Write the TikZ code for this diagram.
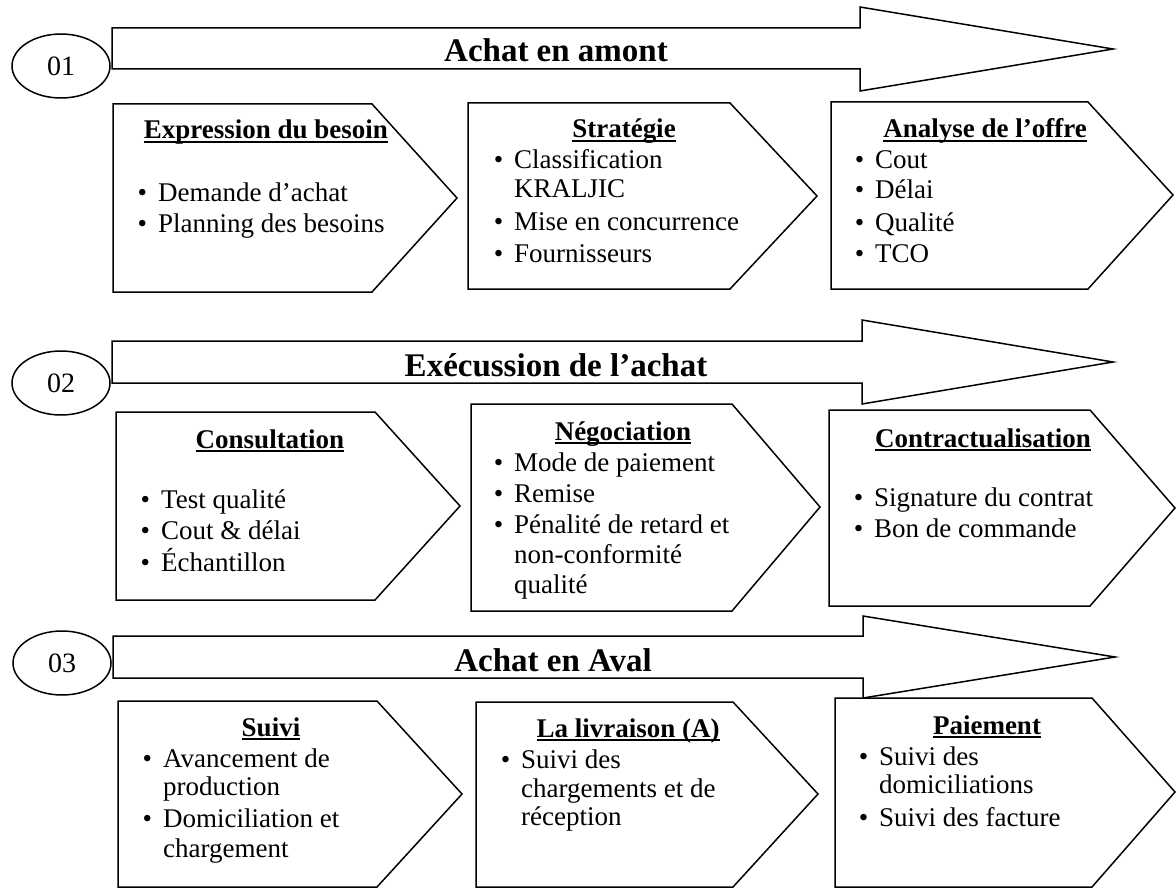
\documentclass[tikz,border=0pt]{standalone}
\usepackage{fontspec}
\setmainfont{Liberation Serif}
\usetikzlibrary{shapes.geometric}
\newcommand\hul[1]{\setbox0\hbox{#1}\rlap{\rule[-4pt]{\wd0}{1.8pt}}\box0}
\newcommand\bl{\llap{\textbullet\hspace{11pt}}}
\tikzset{
  shp/.style={draw=black, line width=1.5pt, line join=miter, fill=white},
  txt/.style={inner sep=0pt, font=\fontsize{27}{31}\selectfont, anchor=base west},
  hd/.style={inner sep=0pt, font=\fontsize{27}{31}\selectfont\bfseries, anchor=base},
  ttl/.style={inner sep=0pt, font=\fontsize{33}{38}\selectfont\bfseries, anchor=base},
  num/.style={draw=black, ellipse, line width=1.5pt, fill=white, minimum width=98pt, minimum height=64pt, inner sep=0pt, font=\fontsize{28}{32}\selectfont}
}
\begin{document}
\begin{tikzpicture}[x=1pt,y=-1pt]
\useasboundingbox (0,0) rectangle (1176,888);
% ---------- Row 1 ----------
\draw[shp] (112,28) -- (860,28) -- (860,7) -- (1113,49) -- (860,91) -- (860,69) -- (112,69) -- cycle;
\node[num] (n1) at (61,66) {01};
\node[ttl] (t1) at (556,62) {Achat en amont};
\draw[shp] (113,104) -- (372,104) -- (457,198) -- (372,292) -- (113,292) -- cycle;
\draw[shp] (468,103) -- (730,103) -- (817,196) -- (730,289) -- (468,289) -- cycle;
\draw[shp] (831,102) -- (1088,102) -- (1173,195) -- (1088,289) -- (831,289) -- cycle;
\node[hd] (h11) at (266,139) {\hul{Expression du besoin}};
\node[txt] (a111) at (158,201) {\bl Demande d’achat};
\node[txt] (a112) at (158,232) {\bl Planning des besoins};
\node[hd] (h12) at (624,138) {\hul{Stratégie}};
\node[txt] (a121) at (514,168) {\bl Classification};
\node[txt] (a122) at (514,197) {KRALJIC};
\node[txt] (a123) at (514,230) {\bl Mise en concurrence};
\node[txt] (a124) at (514,262) {\bl Fournisseurs};
\node[hd] (h13) at (985,138) {\hul{Analyse de l’offre}};
\node[txt] (a131) at (875,169) {\bl Cout};
\node[txt] (a132) at (875,199) {\bl Délai};
\node[txt] (a133) at (875,231) {\bl Qualité};
\node[txt] (a134) at (875,262) {\bl TCO};
% ---------- Row 2 ----------
\draw[shp] (112,341) -- (862,341) -- (862,320) -- (1113,362) -- (862,404) -- (862,383) -- (112,383) -- cycle;
\node[num] (n2) at (61,383) {02};
\node[ttl] (t2) at (556,376) {Exécussion de l’achat};
\draw[shp] (116,412) -- (375,412) -- (460,506) -- (375,600) -- (116,600) -- cycle;
\draw[shp] (471,404) -- (732,404) -- (820,507) -- (732,611) -- (471,611) -- cycle;
\draw[shp] (829,410) -- (1090,410) -- (1175,508) -- (1090,606) -- (829,606) -- cycle;
\node[hd] (h21) at (270,448) {\hul{Consultation}};
\node[txt] (a211) at (161,508) {\bl Test qualité};
\node[txt] (a212) at (161,539) {\bl Cout \& délai};
\node[txt] (a213) at (161,571) {\bl Échantillon};
\node[hd] (h22) at (623,440) {\hul{Négociation}};
\node[txt] (a221) at (514,471) {\bl Mode de paiement};
\node[txt] (a222) at (514,502) {\bl Remise};
\node[txt] (a223) at (514,533) {\bl Pénalité de retard et};
\node[txt] (a224) at (514,563) {non-conformité};
\node[txt] (a225) at (514,593) {qualité};
\node[hd] (h23) at (983,447) {\hul{Contractualisation}};
\node[txt] (a231) at (874,506) {\bl Signature du contrat};
\node[txt] (a232) at (874,537) {\bl Bon de commande};
% ---------- Row 3 ----------
\draw[shp] (113,636) -- (863,636) -- (863,616) -- (1115,657) -- (863,698) -- (863,678) -- (113,678) -- cycle;
\node[num] (n3) at (62,663) {03};
\node[ttl] (t3) at (553,671) {Achat en Aval};
\draw[shp] (118,701) -- (377,701) -- (462,794) -- (377,887) -- (118,887) -- cycle;
\draw[shp] (476,702) -- (733,702) -- (818,794) -- (733,887) -- (476,887) -- cycle;
\draw[shp] (835,698) -- (1092,698) -- (1175,792) -- (1092,887) -- (835,887) -- cycle;
\node[hd] (h31) at (271,736) {\hul{Suivi}};
\node[txt] (a311) at (163,767) {\bl Avancement de};
\node[txt] (a312) at (163,795) {production};
\node[txt] (a313) at (163,827) {\bl Domiciliation et};
\node[txt] (a314) at (163,857) {chargement};
\node[hd] (h32) at (628,737) {\hul{La livraison (A)}};
\node[txt] (a321) at (521,768) {\bl Suivi des};
\node[txt] (a322) at (521,797) {chargements et de};
\node[txt] (a323) at (521,825) {réception};
\node[hd] (h33) at (987,734) {\hul{Paiement}};
\node[txt] (a331) at (879,765) {\bl Suivi des};
\node[txt] (a332) at (879,793) {domiciliations};
\node[txt] (a333) at (879,826) {\bl Suivi des facture};
\end{tikzpicture}
\end{document}
